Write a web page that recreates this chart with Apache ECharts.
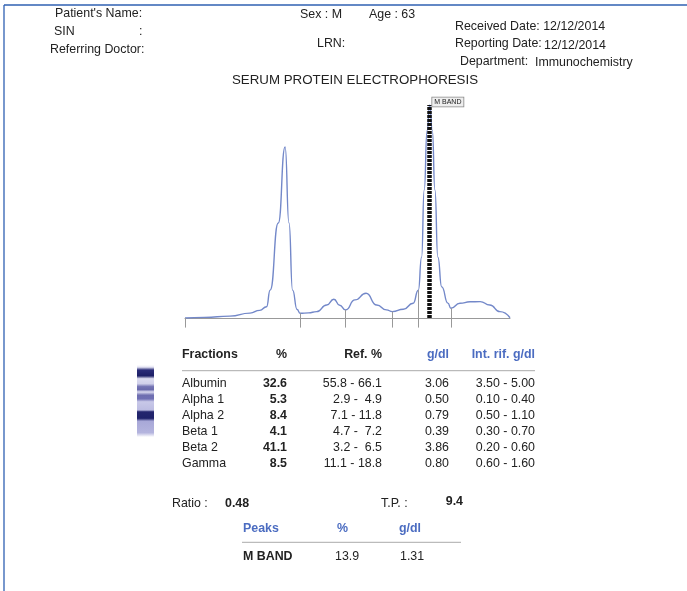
<!DOCTYPE html>
<html><head><meta charset="utf-8">
<script src="https://cdn.jsdelivr.net/npm/echarts/dist/echarts.min.js"></script>
<style>html,body{margin:0;padding:0;background:#fff}#c{width:687px;height:591px}</style>
</head><body><div id="c"></div><script>
// ---- data ----
var curveX = [0, 6, 13.8, 20, 23, 25.1, 26.2, 28.7, 30.8, 32, 33.1, 34.5, 35.4, 38, 40.5, 43.6, 45.8, 47.6, 49.4, 52.3, 55.7, 59, 62, 63.8, 67.2, 70.2, 71.8, 72.8, 73.6, 74.5, 75.3, 76.1, 76.9, 77.8, 79, 80.9, 81.8, 84.6, 87.7, 90.8, 93.8, 96.9, 100];
var curveY = [0, 0.3, 0.9, 2.3, 3.6, 5.3, 13.1, 44.6, 80.3, 44.6, 13.1, 4.0, 2.2, 2.4, 3.0, 6.1, 8.8, 6.0, 3.8, 8.5, 11.6, 6.1, 3.8, 3.0, 4.1, 6.9, 13.1, 28.6, 60.1, 88, 100, 88, 60.1, 28.6, 14.6, 7.0, 4.6, 6.9, 7.6, 7.7, 6.1, 3.0, 0.1];
var dividerX = [35.4, 49.4, 63.8, 71.8, 81.8];
var mBandX = 75.3;
var fractions = ['Albumin', 'Alpha 1', 'Alpha 2', 'Beta 1', 'Beta 2', 'Gamma'];
var pct = ['32.6', '5.3', '8.4', '4.1', '41.1', '8.5'];
var refPct = ['55.8 - 66.1', '2.9 -  4.9', '7.1 - 11.8', '4.7 -  7.2', '3.2 -  6.5', '11.1 - 18.8'];
var gdl = ['3.06', '0.50', '0.79', '0.39', '3.86', '0.80'];
var intRif = ['3.50 - 5.00', '0.10 - 0.40', '0.50 - 1.10', '0.30 - 0.70', '0.20 - 0.60', '0.60 - 1.60'];
var ratio = '0.48', totalProtein = '9.4';
var peakNames = ['M BAND'], peakPct = ['13.9'], peakGdl = ['1.31'];

// ---- build ----
var FONT = "'Liberation Sans', Arial, sans-serif";
var INK = '#222', BLUE = '#4b6cc1';
function yAt(x) { return curveY[curveX.indexOf(x)]; }
var curve = curveX.map(function (x, i) { return [x, curveY[i]]; });
var below = -4.5;
var dividerLines = [[{ coord: [0, 0] }, { coord: [0, below] }]].concat(dividerX.map(function (x) {
  return [{ coord: [x, yAt(x)] }, { coord: [x, below] }];
}));

function T(x, y, text, o) {
  o = o || {};
  return { type: 'text', x: x, y: y, z: 10, style: {
    text: text, fill: o.color || INK, textAlign: o.align || 'left', textVerticalAlign: 'middle',
    font: (o.bold ? 'bold ' : '') + (o.size || 12.4) + 'px ' + FONT } };
}
var g = [];
// frame
g.push({ type: 'line', shape: { x1: 4, y1: 5, x2: 687, y2: 5 }, style: { stroke: '#2f60b2', lineWidth: 1.3 } });
g.push({ type: 'line', shape: { x1: 4, y1: 5, x2: 4, y2: 591 }, style: { stroke: '#2f60b2', lineWidth: 1.3 } });
// header
g.push(T(55, 14, "Patient's Name:"));
g.push(T(54, 32, 'SIN'));
g.push(T(139, 32, ':'));
g.push(T(50, 50, 'Referring Doctor:'));
g.push(T(300, 15, 'Sex : M'));
g.push(T(369, 15, 'Age : 63'));
g.push(T(317, 44, 'LRN:'));
g.push(T(455, 27, 'Received Date: 12/12/2014'));
g.push(T(455, 44, 'Reporting Date:'));
g.push(T(544, 46, '12/12/2014'));
g.push(T(460, 62, 'Department:'));
g.push(T(535, 63, 'Immunochemistry'));
g.push(T(232, 80, 'SERUM PROTEIN ELECTROPHORESIS', { size: 13.3 }));
// gel strip
g.push({ type: 'rect', shape: { x: 137, y: 365, width: 17, height: 72 }, style: { fill: {
  type: 'linear', x: 0, y: 0, x2: 0, y2: 1, colorStops: [
    { offset: 0, color: '#ffffff' }, { offset: 0.03, color: '#e4e4f4' }, { offset: 0.07, color: '#2a2c78' },
    { offset: 0.15, color: '#1c1f66' }, { offset: 0.19, color: '#dcdcf0' }, { offset: 0.26, color: '#d0d0ea' },
    { offset: 0.30, color: '#7474b4' }, { offset: 0.34, color: '#6a6aac' }, { offset: 0.375, color: '#dadaf0' },
    { offset: 0.42, color: '#6e6eb0' }, { offset: 0.47, color: '#7070b4' }, { offset: 0.51, color: '#c8c8e8' },
    { offset: 0.625, color: '#bcbce2' }, { offset: 0.65, color: '#24266e' }, { offset: 0.74, color: '#1f226a' },
    { offset: 0.78, color: '#a8a8d8' }, { offset: 0.94, color: '#b4b4de' }, { offset: 1, color: '#ffffff' }] } } });
// table
g.push(T(182, 355, 'Fractions', { bold: true }));
g.push(T(287, 355, '%', { bold: true, align: 'right' }));
g.push(T(382, 355, 'Ref. %', { bold: true, align: 'right' }));
g.push(T(449, 355, 'g/dl', { bold: true, align: 'right', color: BLUE }));
g.push(T(535, 355, 'Int. rif. g/dl', { bold: true, align: 'right', color: BLUE }));
g.push({ type: 'line', shape: { x1: 182, y1: 370.7, x2: 535, y2: 370.7 }, style: { stroke: '#aaa', lineWidth: 1 } });
fractions.forEach(function (f, i) {
  var y = 383.5 + i * 16.1;
  g.push(T(182, y, f));
  g.push(T(287, y, pct[i], { bold: true, align: 'right' }));
  g.push(T(382, y, refPct[i], { align: 'right' }));
  g.push(T(449, y, gdl[i], { align: 'right' }));
  g.push(T(535, y, intRif[i], { align: 'right' }));
});
g.push(T(172, 504, 'Ratio :'));
g.push(T(225, 504, ratio, { bold: true }));
g.push(T(381, 504, 'T.P. :'));
g.push(T(463, 502, totalProtein, { bold: true, align: 'right' }));
g.push(T(243, 529, 'Peaks', { bold: true, color: BLUE }));
g.push(T(337, 529, '%', { bold: true, color: BLUE }));
g.push(T(399, 529, 'g/dl', { bold: true, color: BLUE }));
g.push({ type: 'line', shape: { x1: 242, y1: 542.3, x2: 461, y2: 542.3 }, style: { stroke: '#aaa', lineWidth: 1 } });
peakNames.forEach(function (p, i) {
  var y = 557 + i * 16;
  g.push(T(243, y, p, { bold: true }));
  g.push(T(335, y, peakPct[i]));
  g.push(T(400, y, peakGdl[i]));
});

var chart = echarts.init(document.getElementById('c'), null, { renderer: 'canvas' });
chart.setOption({
  animation: false,
  backgroundColor: '#fff',
  grid: { left: 185, top: 105, width: 325, height: 223.65 },
  xAxis: { type: 'value', min: 0, max: 100, axisLine: { show: true, onZero: true, lineStyle: { color: '#999', width: 1 } },
    axisTick: { show: false }, axisLabel: { show: false }, splitLine: { show: false } },
  yAxis: { type: 'value', min: -5, max: 100, axisLine: { show: false }, axisTick: { show: false },
    axisLabel: { show: false }, splitLine: { show: false } },
  series: [
    { type: 'line', data: curve, smooth: 0.55, smoothMonotone: 'x', symbol: 'none', z: 3,
      lineStyle: { color: '#7388c9', width: 1.4 },
      markLine: { silent: true, symbol: ['none', 'none'], label: { show: false },
        lineStyle: { color: '#999', width: 1, type: 'solid' }, data: dividerLines } },
    { type: 'line', data: [], z: 5,
      markLine: { silent: true, symbol: ['none', 'none'], label: { show: false },
        lineStyle: { color: '#111', width: 4.5, type: [3, 1] },
        data: [[{ coord: [mBandX, 0] }, { coord: [mBandX, yAt(mBandX)] }]] },
      markPoint: { silent: true, symbol: 'rect', symbolSize: 1, itemStyle: { color: 'rgba(0,0,0,0)' },
        label: { show: true, formatter: 'M BAND', position: [3, -7], fontSize: 7, fontFamily: FONT, color: '#222',
          backgroundColor: '#eeeeee', borderColor: '#888', borderWidth: 0.8, padding: [1, 2, 1, 2] },
        data: [{ coord: [mBandX, yAt(mBandX)] }] } }
  ],
  graphic: g
});
</script></body></html>
